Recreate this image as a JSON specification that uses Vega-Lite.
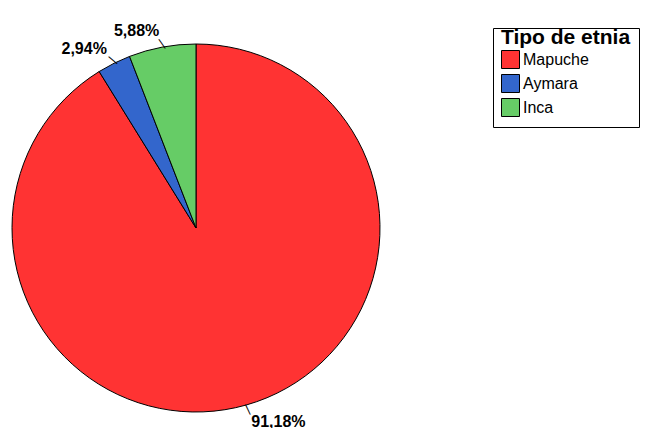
{
  "$schema": "https://vega.github.io/schema/vega-lite/v6.json",
  "autosize": "none",
  "width": 392,
  "height": 400,
  "padding": {"left": 0, "top": 28, "right": 253, "bottom": 0},
  "background": "white",
  "config": {"view": {"stroke": null}, "font": "Liberation Sans"},
  "data": {
    "values": [
      {"etnia": "Mapuche", "orden": 1, "porcentaje": 91.18, "etiqueta": "91,18%"},
      {"etnia": "Aymara", "orden": 2, "porcentaje": 2.94, "etiqueta": "2,94%"},
      {"etnia": "Inca", "orden": 3, "porcentaje": 5.88, "etiqueta": "5,88%"}
    ]
  },
  "encoding": {
    "theta": {"field": "porcentaje", "type": "quantitative", "stack": true},
    "order": {"field": "orden", "type": "quantitative"}
  },
  "layer": [
    {
      "mark": {"type": "arc", "outerRadius": 184, "stroke": "black", "strokeWidth": 1},
      "encoding": {
        "color": {
          "field": "etnia",
          "type": "nominal",
          "scale": {"domain": ["Mapuche", "Aymara", "Inca"], "range": ["#FF3333", "#3366CC", "#66CC66"]},
          "legend": {
            "title": "Tipo de etnia",
            "orient": "right",
            "offset": 101,
            "strokeColor": "black",
            "fillColor": "white",
            "padding": 8,
            "titleFont": "Liberation Sans",
            "titleFontSize": 21,
            "titleFontWeight": "bold",
            "titleColor": "black",
            "titleBaseline": "line-top",
            "titleLineHeight": 4,
            "titlePadding": -7,
            "labelFont": "Liberation Sans",
            "labelFontSize": 16,
            "labelColor": "black",
            "labelOffset": 3,
            "symbolType": "square",
            "symbolSize": 324,
            "symbolStrokeColor": "black",
            "symbolStrokeWidth": 1,
            "symbolOpacity": 1,
            "rowPadding": 1
          }
        }
      }
    },
    {
      "mark": {"type": "text", "radius": 202, "align": "left", "baseline": "middle", "fontSize": 16, "fontWeight": "bold", "font": "Liberation Sans", "color": "black"},
      "encoding": {
        "text": {"condition": {"test": "datum.etnia === 'Mapuche'", "field": "etiqueta"}, "value": ""}
      }
    },
    {
      "mark": {"type": "text", "radius": 200, "align": "right", "baseline": "middle", "fontSize": 16, "fontWeight": "bold", "font": "Liberation Sans", "color": "black"},
      "encoding": {
        "text": {"condition": {"test": "datum.etnia !== 'Mapuche'", "field": "etiqueta"}, "value": ""}
      }
    },
    {
      "mark": {"type": "text", "radius": 188, "align": "center", "baseline": "middle", "angle": 335, "fontSize": 12, "font": "Liberation Sans", "color": "black"},
      "encoding": {
        "text": {"condition": {"test": "datum.etnia === 'Mapuche'", "value": "|"}, "value": ""}
      }
    },
    {
      "mark": {"type": "text", "radius": 188, "align": "center", "baseline": "middle", "angle": 310, "fontSize": 12, "font": "Liberation Sans", "color": "black"},
      "encoding": {
        "text": {"condition": {"test": "datum.etnia === 'Aymara'", "value": "|"}, "value": ""}
      }
    },
    {
      "mark": {"type": "text", "radius": 188, "align": "center", "baseline": "middle", "angle": 325, "fontSize": 12, "font": "Liberation Sans", "color": "black"},
      "encoding": {
        "text": {"condition": {"test": "datum.etnia === 'Inca'", "value": "|"}, "value": ""}
      }
    }
  ]
}
